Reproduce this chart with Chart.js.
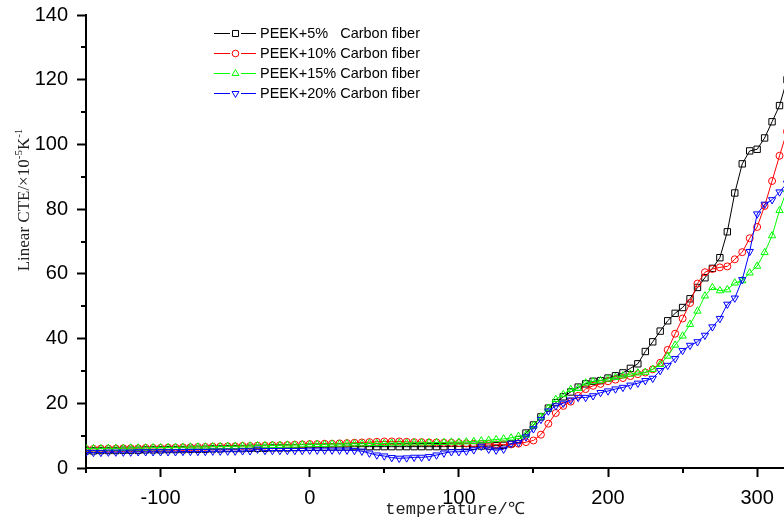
<!DOCTYPE html>
<html>
  <head>
    <meta charset="UTF-8" />
    <title>Linear CTE of PEEK / carbon fiber</title>
    <script src="https://cdn.jsdelivr.net/npm/chart.js"></script>
    <style>
      * {
        margin: 0;
        padding: 0;
      }

      body {
        background-color: #fff;
        width: 784px;
        height: 523px;
        overflow: hidden;
      }

      #chart {
        display: block;
      }
    </style>
  </head>
  <body>
    <canvas id="chart" width="784" height="523"></canvas>
    <script>
      // temperature (°C), one reading every 5 degrees
      const temps = [
        -150, -145, -140, -135, -130, -125, -120, -115, -110, -105,
        -100, -95, -90, -85, -80, -75, -70, -65, -60, -55,
        -50, -45, -40, -35, -30, -25, -20, -15, -10, -5,
        0, 5, 10, 15, 20, 25, 30, 35, 40, 45,
        50, 55, 60, 65, 70, 75, 80, 85, 90, 95,
        100, 105, 110, 115, 120, 125, 130, 135, 140, 145,
        150, 155, 160, 165, 170, 175, 180, 185, 190, 195,
        200, 205, 210, 215, 220, 225, 230, 235, 240, 245,
        250, 255, 260, 265, 270, 275, 280, 285, 290, 295,
        300, 305, 310, 315, 320,
      ];

      // linear CTE, x10^-5 K^-1
      const cte5 = [
        5.3, 5.3, 5.4, 5.4, 5.4, 5.5, 5.5, 5.5, 5.6, 5.6,
        5.6, 5.7, 5.7, 5.7, 5.8, 5.8, 5.8, 5.9, 5.9, 6.0,
        6.0, 6.0, 6.1, 6.1, 6.1, 6.2, 6.2, 6.2, 6.3, 6.3,
        6.4, 6.4, 6.4, 6.5, 6.5, 6.5, 6.6, 6.6, 6.6, 6.6,
        6.6, 6.6, 6.6, 6.6, 6.6, 6.6, 6.6, 6.6, 6.6, 6.7,
        6.7, 6.7, 6.7, 6.8, 6.8, 6.9, 7.0, 7.5, 8.8, 10.8,
        13.3, 15.8, 18.5, 20.2, 22.0, 23.5, 25.0, 26.0, 26.8, 27.0,
        27.8, 28.5, 29.4, 30.8, 32.2, 36.0, 39.0, 42.3, 45.5, 47.8,
        49.6, 52.3, 55.8, 58.8, 61.7, 65.0, 73.0, 85.0, 94.0, 98.0,
        98.5, 102.0, 107.0, 112.0, 120.0,
      ];

      const cte10 = [
        5.9, 5.9, 6.0, 6.0, 6.0, 6.1, 6.1, 6.1, 6.2, 6.2,
        6.2, 6.3, 6.3, 6.4, 6.4, 6.5, 6.5, 6.6, 6.6, 6.7,
        6.7, 6.8, 6.8, 6.9, 6.9, 7.0, 7.0, 7.1, 7.2, 7.3,
        7.4, 7.4, 7.5, 7.5, 7.6, 7.7, 7.8, 7.9, 8.0, 8.1,
        8.2, 8.2, 8.2, 8.1, 8.0, 8.0, 7.9, 7.9, 7.8, 7.8,
        7.7, 7.6, 7.5, 7.4, 7.4, 7.3, 7.3, 7.3, 7.5, 8.0,
        8.5, 10.3, 13.7, 17.0, 19.2, 20.5, 22.3, 24.4, 25.4, 26.0,
        26.8, 27.3, 27.8, 28.4, 29.0, 29.5, 30.5, 32.5, 36.5, 41.5,
        46.2, 51.0, 57.0, 60.5, 61.5, 62.0, 62.3, 64.5, 66.7, 71.0,
        74.5, 81.0, 88.7, 96.5, 104.0,
      ];

      const cte15 = [
        6.0, 6.0, 6.0, 6.1, 6.1, 6.1, 6.2, 6.2, 6.2, 6.3,
        6.3, 6.3, 6.4, 6.4, 6.5, 6.5, 6.5, 6.6, 6.6, 6.7,
        6.7, 6.8, 6.8, 6.9, 6.9, 7.0, 7.0, 7.1, 7.1, 7.2,
        7.2, 7.3, 7.3, 7.4, 7.4, 7.5, 7.5, 7.5, 7.6, 7.6,
        7.6, 7.7, 7.7, 7.7, 7.8, 7.8, 7.8, 7.9, 7.9, 8.0,
        8.0, 8.1, 8.2, 8.4, 8.6, 8.8, 9.0, 9.3, 9.8, 10.2,
        13.1, 15.8, 18.5, 21.2, 22.7, 24.3, 24.6, 26.3, 26.7, 27.0,
        27.5, 28.0, 28.5, 29.0, 29.4, 29.6, 30.5, 32.0, 34.6, 38.0,
        40.8, 44.4, 48.5, 53.2, 55.8, 54.8, 55.1, 57.2, 57.9, 60.3,
        62.4, 66.6, 71.8, 79.6, 86.0,
      ];

      const cte20 = [
        4.8, 4.8, 4.8, 4.9, 4.9, 4.9, 4.9, 5.0, 5.0, 5.0,
        5.0, 5.0, 5.0, 5.1, 5.1, 5.1, 5.1, 5.2, 5.2, 5.2,
        5.2, 5.3, 5.3, 5.8, 5.4, 5.4, 5.4, 5.4, 5.4, 5.4,
        5.5, 5.5, 5.5, 5.5, 5.5, 5.5, 5.4, 5.2, 4.6, 4.0,
        3.7, 3.2, 3.0, 3.1, 3.3, 3.3, 3.5, 4.0, 4.6, 5.0,
        5.0, 5.2, 5.6, 6.7, 5.8, 5.5, 5.8, 7.6, 7.8, 9.6,
        12.1, 15.0, 17.6, 19.2, 20.0, 21.0, 21.8, 21.8, 22.3, 23.3,
        23.8, 24.4, 24.9, 25.6, 26.2, 27.0, 27.7, 30.1, 31.7, 33.8,
        36.3, 37.9, 39.0, 41.0, 43.6, 46.2, 50.6, 52.5, 58.2, 66.9,
        78.5, 81.5, 82.9, 85.3, 88.0,
      ];

      const seriesNames = [
        "PEEK+5%   Carbon fiber",
        "PEEK+10% Carbon fiber",
        "PEEK+15% Carbon fiber",
        "PEEK+20% Carbon fiber",
      ];
      const seriesValues = [cte5, cte10, cte15, cte20];
      const seriesColors = ["#000000", "#ff0000", "#00ff00", "#0000ff"];
      const seriesMarkers = ["rect", "circle", "triangle", "triangle"];
      const markerRotation = [0, 0, 0, 180];
      const markerRadius = [4.5, 3.5, 4.2, 4.2];

      const majorX = [-100, 0, 100, 200, 300];
      const minorX = [-150, -50, 50, 150, 250];
      const minorY = [10, 30, 50, 70, 90, 110, 130];

      const datasets = seriesValues.map((vals, i) => ({
        label: seriesNames[i],
        data: temps.map((t, j) => ({ x: t, y: vals[j] })),
        borderColor: seriesColors[i],
        borderWidth: 1,
        pointStyle: seriesMarkers[i],
        rotation: markerRotation[i],
        pointRadius: markerRadius[i],
        pointBorderWidth: 1,
        pointBorderColor: seriesColors[i],
        pointBackgroundColor: "rgba(0,0,0,0)",
        tension: 0,
        order: 3 - i,
      }));

      function drawMarker(ctx, style, rotation, x, y, r) {
        ctx.beginPath();
        if (style === "rect") {
          const s = r * Math.SQRT1_2;
          ctx.rect(x - s, y - s, 2 * s, 2 * s);
        } else if (style === "circle") {
          ctx.arc(x, y, r, 0, Math.PI * 2);
        } else {
          let a = (rotation * Math.PI) / 180;
          ctx.moveTo(x + Math.sin(a) * r, y - Math.cos(a) * r);
          a += (2 * Math.PI) / 3;
          ctx.lineTo(x + Math.sin(a) * r, y - Math.cos(a) * r);
          a += (2 * Math.PI) / 3;
          ctx.lineTo(x + Math.sin(a) * r, y - Math.cos(a) * r);
          ctx.closePath();
        }
        ctx.stroke();
      }

      // minor ticks, legend and the two axis titles
      const decorPlugin = {
        id: "decor",
        afterDraw(chart) {
          const ctx = chart.ctx;
          const xs = chart.scales.x;
          const ys = chart.scales.y;
          ctx.save();

          ctx.strokeStyle = "#000";
          ctx.lineWidth = 2;
          ctx.beginPath();
          minorX.forEach((v) => {
            const px = Math.round(xs.getPixelForValue(v));
            ctx.moveTo(px, xs.top);
            ctx.lineTo(px, xs.top + 5);
          });
          minorY.forEach((v) => {
            const py = Math.round(ys.getPixelForValue(v));
            ctx.moveTo(ys.right, py);
            ctx.lineTo(ys.right - 5, py);
          });
          ctx.stroke();

          // legend
          ctx.font = "14.5px 'Liberation Sans', Arial, sans-serif";
          ctx.textBaseline = "middle";
          ctx.textAlign = "left";
          seriesNames.forEach((name, i) => {
            const y = 33 + i * 20;
            ctx.strokeStyle = seriesColors[i];
            ctx.lineWidth = 1;
            ctx.beginPath();
            ctx.moveTo(214, y + 0.5);
            ctx.lineTo(230, y + 0.5);
            ctx.moveTo(241, y + 0.5);
            ctx.lineTo(256, y + 0.5);
            ctx.stroke();
            drawMarker(ctx, seriesMarkers[i], markerRotation[i], 235.5, y + 0.5, markerRadius[i] * 0.95);
            ctx.fillStyle = "#000";
            ctx.fillText(name, 260, y + 1);
          });

          // x title
          ctx.fillStyle = "#222";
          ctx.font = "17px 'Liberation Mono', 'DejaVu Sans Mono', monospace";
          ctx.textAlign = "center";
          ctx.textBaseline = "middle";
          ctx.fillText("temperature/℃", 455, 509);

          // y title with superscripts
          const parts = [
            ["Linear CTE/×10", false],
            ["-5", true],
            ["K", false],
            ["-1", true],
          ];
          const baseFont = "17px 'Liberation Serif', 'DejaVu Serif', serif";
          const supFont = "11px 'Liberation Serif', 'DejaVu Serif', serif";
          let total = 0;
          parts.forEach(([t, sup]) => {
            ctx.font = sup ? supFont : baseFont;
            total += ctx.measureText(t).width;
          });
          ctx.translate(29, 200);
          ctx.rotate(-Math.PI / 2);
          ctx.textAlign = "left";
          ctx.textBaseline = "alphabetic";
          let cx = -total / 2;
          parts.forEach(([t, sup]) => {
            ctx.font = sup ? supFont : baseFont;
            ctx.fillText(t, cx, sup ? -7 : 0);
            cx += ctx.measureText(t).width;
          });
          ctx.restore();
        },
      };

      new Chart(document.getElementById("chart"), {
        type: "line",
        data: { datasets },
        plugins: [decorPlugin],
        options: {
          responsive: false,
          animation: false,
          devicePixelRatio: 1,
          layout: {
            autoPadding: false,
            padding: { top: 15, right: 0, left: 0, bottom: 0 },
          },
          plugins: {
            legend: { display: false },
            tooltip: { enabled: false },
          },
          scales: {
            x: {
              type: "linear",
              min: -150,
              max: 318,
              afterBuildTicks: (axis) => {
                axis.ticks = majorX.map((v) => ({ value: v }));
              },
              afterFit: (scale) => {
                scale.height = 55;
                scale.paddingLeft = 0;
                scale.paddingRight = 0;
              },
              border: { display: true, color: "#000", width: 2 },
              grid: {
                drawOnChartArea: false,
                drawTicks: true,
                tickLength: 9,
                tickWidth: 2,
                tickColor: "#000",
              },
              ticks: {
                color: "#000",
                padding: 9,
                maxRotation: 0,
                autoSkip: false,
                font: { family: "'Liberation Sans', Arial, sans-serif", size: 20 },
              },
            },
            y: {
              min: 0,
              max: 140,
              afterFit: (scale) => {
                scale.width = 86;
                scale.paddingTop = 0;
                scale.paddingBottom = 0;
              },
              border: { display: true, color: "#000", width: 2 },
              grid: {
                drawOnChartArea: false,
                drawTicks: true,
                tickLength: 9,
                tickWidth: 2,
                tickColor: "#000",
              },
              ticks: {
                stepSize: 20,
                color: "#000",
                padding: 9,
                font: { family: "'Liberation Sans', Arial, sans-serif", size: 20 },
              },
            },
          },
        },
      });
    </script>
  </body>
</html>
